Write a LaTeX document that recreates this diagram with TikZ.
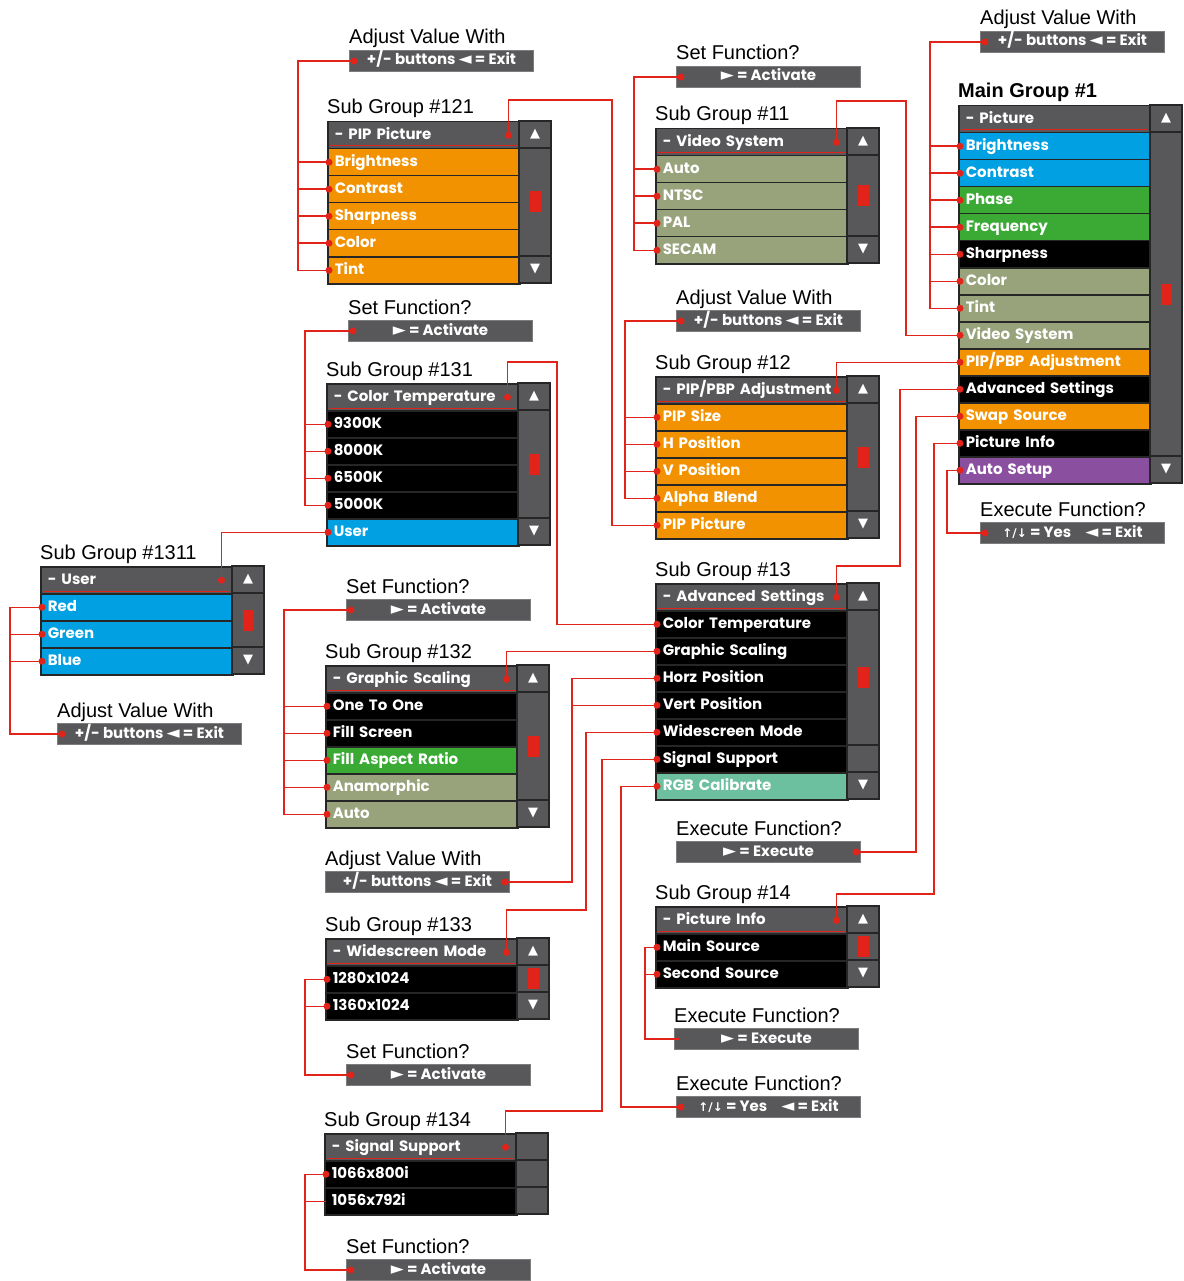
\documentclass[tikz,border=0pt]{standalone}
\usepackage{fontspec}
\setmainfont{Liberation Sans}
\newfontfamily\menufont{Poppins}
\newfontfamily\symfont{DejaVu Sans}
\usetikzlibrary{positioning}

\definecolor{linkred}{HTML}{E2231A}
\definecolor{panelgray}{HTML}{58585A}
\definecolor{edgegray}{HTML}{262626}
\definecolor{rowcyan}{HTML}{00A0E3}
\definecolor{rowgreen}{HTML}{3AAA35}
\definecolor{rowolive}{HTML}{98A37B}
\definecolor{roworange}{HTML}{F39200}
\definecolor{rowpurple}{HTML}{8B4F9F}
\definecolor{rowteal}{HTML}{6CBF9F}

\newcommand\playsym{{\symfont\mdseries\fontsize{17}{17}\selectfont\char"25BA}}
\newcommand\backsym{{\symfont\mdseries\fontsize{17}{17}\selectfont\char"25C4}}
\newcommand\updownsym{{\symfont\bfseries\fontsize{12}{12}\selectfont\char"2191/\char"2193}}

\tikzset{
  grouplabel/.style={anchor=base west, inner sep=0pt, font=\fontsize{20}{22}\selectfont},
  menurow/.style={draw=edgegray, line width=1.5pt, anchor=north west, text width=178pt,
    inner xsep=7pt, inner ysep=0pt, minimum height=27pt, text height=11pt, text depth=3pt,
    text=white, align=left, font=\menufont\bfseries\fontsize{15}{17}\selectfont},
  menuhead/.style={menurow, fill=panelgray},
  scell/.style={draw=edgegray, line width=1.5pt, fill=panelgray},
  scrollsym/.style={text=white, inner sep=0pt, font=\symfont\fontsize{13}{13}\selectfont},
  infobox/.style={draw=edgegray!60, line width=1pt, fill=panelgray, anchor=north west,
    minimum width=184pt, minimum height=21pt, inner sep=0pt, text height=11pt, text depth=3pt,
    text=white, font=\menufont\bfseries\fontsize{15}{17}\selectfont},
  link/.style={draw=linkred, line width=1.5pt}
}

\newcommand\menupanel[6]{%
  \node[grouplabel] (#1-lbl) at (#2,#3-7) {#4};
  \node[menuhead] (#1-h) at (#2,#3) {- #5};
  \draw[linkred, line width=1pt] ([xshift=3pt,yshift=3.5pt]#1-h.south west) -- ([xshift=-4pt,yshift=3.5pt]#1-h.south east);
  \coordinate (#1-h-d) at ([xshift=-12pt]#1-h.east);
  \foreach \c/\t [count=\i] in {#6} {
    \node[menurow, fill=\c] (#1-\i) at (#2,{#3+27*\i}) {\t};
    \coordinate (#1-\i-d) at ([xshift=2pt]#1-\i.west);
  }
}

\newcommand\scrollbar[5]{%
  \draw[scell] (#2,#3) rectangle ++(32,27);
  \node[scrollsym] (#1-up) at (#2+16,#3+13.5) {\char"25B2};
  \draw[scell] (#2,#3+27) rectangle ({#2+32},{#3+27*(#4+1)});
  \draw[scell] (#2,{#3+27*(#4+1)}) rectangle ({#2+32},{#3+27*#5});
  \fill[linkred] ({#2+10.5},{#3+27+13.5*#4-10.5}) rectangle ++(11,21);
  \draw[scell] (#2,{#3+27*#5}) rectangle ++(32,27);
  \node[scrollsym] (#1-dn) at (#2+16,{#3+27*#5+13.5}) {\char"25BC};
}

\newcommand\infobox[5]{%
  \node[grouplabel] (#1-lbl) at (#2,#3-6) {#4};
  \node[infobox] (#1) at (#2,#3) {#5};
  \coordinate (#1-l) at ([xshift=5pt]#1.west);
  \coordinate (#1-r) at ([xshift=-5pt]#1.east);
}

\newcommand\linkdots[1]{\foreach \p in {#1} \fill[linkred] (\p) circle (3.5);}

\begin{document}
\begin{tikzpicture}[x=1pt,y=-1pt]
\useasboundingbox (0,0) rectangle (1183,1281);
\fill[white] (0,0) rectangle (1183,1281);

\menupanel{mg}{958}{105}{\bfseries Main Group \#1}{Picture}{rowcyan/Brightness, rowcyan/Contrast, rowgreen/Phase, rowgreen/Frequency, black/Sharpness, rowolive/Color, rowolive/Tint, rowolive/Video System, roworange/{PIP/PBP Adjustment}, black/Advanced Settings, roworange/Swap Source, black/Picture Info, rowpurple/Auto Setup}
\scrollbar{mgs}{1150}{105}{12}{13}

\menupanel{sg11}{655}{128}{Sub Group \#11}{Video System}{rowolive/Auto, rowolive/NTSC, rowolive/PAL, rowolive/SECAM}
\scrollbar{sg11s}{847}{128}{3}{4}

\menupanel{sg121}{327}{121}{Sub Group \#121}{PIP Picture}{roworange/Brightness, roworange/Contrast, roworange/Sharpness, roworange/Color, roworange/Tint}
\scrollbar{sg121s}{519}{121}{4}{5}

\menupanel{sg12}{655}{376}{Sub Group \#12}{PIP/PBP Adjustment}{roworange/PIP Size, roworange/H Position, roworange/V Position, roworange/Alpha Blend, roworange/PIP Picture}
\scrollbar{sg12s}{847}{376}{4}{5}

\menupanel{sg131}{326}{383}{Sub Group \#131}{Color Temperature}{black/9300K, black/8000K, black/6500K, black/5000K, rowcyan/User}
\scrollbar{sg131s}{518}{383}{4}{5}

\menupanel{sg1311}{40}{566}{Sub Group \#1311}{User}{rowcyan/Red, rowcyan/Green, rowcyan/Blue}
\scrollbar{sg1311s}{232}{566}{2}{3}

\menupanel{sg13}{655}{583}{Sub Group \#13}{Advanced Settings}{black/Color Temperature, black/Graphic Scaling, black/Horz Position, black/Vert Position, black/Widescreen Mode, black/Signal Support, rowteal/RGB Calibrate}
\scrollbar{sg13s}{847}{583}{5}{7}

\menupanel{sg132}{325}{665}{Sub Group \#132}{Graphic Scaling}{black/One To One, black/Fill Screen, rowgreen/Fill Aspect Ratio, rowolive/Anamorphic, rowolive/Auto}
\scrollbar{sg132s}{517}{665}{4}{5}

\menupanel{sg133}{325}{938}{Sub Group \#133}{Widescreen Mode}{black/1280x1024, black/1360x1024}
\scrollbar{sg133s}{517}{938}{1}{2}

\menupanel{sg134}{324}{1133}{Sub Group \#134}{Signal Support}{black/1066x800i, black/1056x792i}
\draw[scell] (516,1133) rectangle ++(32,27);
\draw[scell] (516,1160) rectangle ++(32,27);
\draw[scell] (516,1187) rectangle ++(32,27);

\menupanel{sg14}{655}{906}{Sub Group \#14}{Picture Info}{black/Main Source, black/Second Source}
\scrollbar{sg14s}{847}{906}{1}{2}

\infobox{adj-mg}{980}{31}{Adjust Value With}{+/- buttons \backsym{} = Exit}
\infobox{exe-mg}{980}{522}{Execute Function?}{\updownsym{} = Yes\hspace{14pt}\backsym{} = Exit}
\infobox{set-sg11}{676}{66}{Set Function?}{\playsym{} = Activate}
\infobox{adj-sg121}{349}{50}{Adjust Value With}{+/- buttons \backsym{} = Exit}
\infobox{adj-sg12}{676}{310}{Adjust Value With}{+/- buttons \backsym{} = Exit}
\infobox{set-sg131}{348}{320}{Set Function?}{\playsym{} = Activate}
\infobox{adj-sg1311}{57}{723}{Adjust Value With}{+/- buttons \backsym{} = Exit}
\infobox{set-sg132}{346}{599}{Set Function?}{\playsym{} = Activate}
\infobox{exe-sg13}{676}{841}{Execute Function?}{\playsym{} = Execute}
\infobox{adj-sg13}{325}{871}{Adjust Value With}{+/- buttons \backsym{} = Exit}
\infobox{set-sg133}{346}{1064}{Set Function?}{\playsym{} = Activate}
\infobox{set-sg134}{346}{1259}{Set Function?}{\playsym{} = Activate}
\infobox{exe-sg14}{674}{1028}{Execute Function?}{\playsym{} = Execute}
\infobox{yes-sg13}{676}{1096}{Execute Function?}{\updownsym{} = Yes\hspace{14pt}\backsym{} = Exit}

\coordinate (t-mg) at (930,0);
\draw[link] (adj-mg-l) -- (t-mg |- adj-mg-l) -- (t-mg |- mg-7-d) -- (mg-7-d);
\foreach \i in {1,...,6} \draw[link] (t-mg |- mg-\i-d) -- (mg-\i-d);
\draw[link] (mg-8-d) -| (906,101) -| (sg11-h-d);
\draw[link] (mg-9-d) -| (sg12-h-d);
\draw[link] (mg-10-d) -| (900,566) -| (sg13-h-d);
\coordinate (t-sw) at (916,0);
\draw[link] (mg-11-d) -| (t-sw |- exe-sg13-r) -- (exe-sg13-r);
\draw[link] (mg-12-d) -| (934,894) -| (sg14-h-d);
\coordinate (t-as) at (947,0);
\draw[link] (mg-13-d) -| (t-as |- exe-mg-l) -- (exe-mg-l);

\coordinate (t-11) at (634,0);
\draw[link] (set-sg11-l) -- (t-11 |- set-sg11-l) -- (t-11 |- sg11-4-d) -- (sg11-4-d);
\foreach \i in {1,2,3} \draw[link] (t-11 |- sg11-\i-d) -- (sg11-\i-d);

\coordinate (t-121) at (298,0);
\draw[link] (adj-sg121-l) -- (t-121 |- adj-sg121-l) -- (t-121 |- sg121-5-d) -- (sg121-5-d);
\foreach \i in {1,...,4} \draw[link] (t-121 |- sg121-\i-d) -- (sg121-\i-d);
\draw[link] (sg121-h-d) |- (612,100) |- (sg12-5-d);

\coordinate (t-12) at (625,0);
\draw[link] (adj-sg12-l) -- (t-12 |- adj-sg12-l) -- (t-12 |- sg12-4-d) -- (sg12-4-d);
\foreach \i in {1,2,3} \draw[link] (t-12 |- sg12-\i-d) -- (sg12-\i-d);

\coordinate (t-131) at (305,0);
\draw[link] (set-sg131-l) -- (t-131 |- set-sg131-l) -- (t-131 |- sg131-4-d) -- (sg131-4-d);
\foreach \i in {1,2,3} \draw[link] (t-131 |- sg131-\i-d) -- (sg131-\i-d);
\draw[link] (sg131-h-d) |- (557,362) |- (sg13-1-d);
\draw[link] (sg131-5-d) -| (sg1311-h-d);

\coordinate (t-1311) at (10,0);
\draw[link] (adj-sg1311-l) -- (t-1311 |- adj-sg1311-l) -- (t-1311 |- sg1311-1-d) -- (sg1311-1-d);
\foreach \i in {2,3} \draw[link] (t-1311 |- sg1311-\i-d) -- (sg1311-\i-d);

\draw[link] (sg13-2-d) -| (sg132-h-d);
\coordinate (t-hv) at (572,0);
\draw[link] (sg13-3-d) -- (t-hv |- sg13-3-d) -- (t-hv |- adj-sg13-r) -- (adj-sg13-r);
\draw[link] (sg13-4-d) -- (t-hv |- sg13-4-d);
\draw[link] (sg13-5-d) -| (586,910) -| (sg133-h-d);
\draw[link] (sg13-6-d) -| (602,1111) -| (sg134-h-d);
\coordinate (t-rgb) at (621,0);
\draw[link] (sg13-7-d) -- (t-rgb |- sg13-7-d) -- (t-rgb |- yes-sg13-l) -- (yes-sg13-l);

\coordinate (t-132) at (284,0);
\draw[link] (set-sg132-l) -- (t-132 |- set-sg132-l) -- (t-132 |- sg132-5-d) -- (sg132-5-d);
\foreach \i in {1,...,4} \draw[link] (t-132 |- sg132-\i-d) -- (sg132-\i-d);

\coordinate (t-133) at (305,0);
\draw[link] (set-sg133-l) -- (t-133 |- set-sg133-l) -- (t-133 |- sg133-1-d) -- (sg133-1-d);
\draw[link] (t-133 |- sg133-2-d) -- (sg133-2-d);

\coordinate (t-134) at (305,0);
\draw[link] (set-sg134-l) -- (t-134 |- set-sg134-l) -- (t-134 |- sg134-1-d) -- (sg134-1-d);
\draw[link] (t-134 |- sg134-2-d) -- (sg134-2-d);

\coordinate (t-14) at (645,0);
\draw[link] (exe-sg14-l) -- (t-14 |- exe-sg14-l) -- (t-14 |- sg14-1-d) -- (sg14-1-d);
\draw[link] (t-14 |- sg14-2-d) -- (sg14-2-d);

\linkdots{adj-mg-l, mg-1-d, mg-2-d, mg-3-d, mg-4-d, mg-5-d, mg-6-d, mg-7-d, mg-8-d, mg-9-d, mg-10-d, mg-11-d, mg-12-d, mg-13-d, exe-mg-l, exe-sg13-r, sg11-h-d, sg12-h-d, sg13-h-d, sg14-h-d}
\linkdots{set-sg11-l, sg11-1-d, sg11-2-d, sg11-3-d, sg11-4-d, adj-sg121-l, sg121-1-d, sg121-2-d, sg121-3-d, sg121-4-d, sg121-5-d, sg121-h-d}
\linkdots{adj-sg12-l, sg12-1-d, sg12-2-d, sg12-3-d, sg12-4-d, sg12-5-d, set-sg131-l, sg131-1-d, sg131-2-d, sg131-3-d, sg131-4-d, sg131-5-d, sg131-h-d, sg1311-h-d}
\linkdots{adj-sg1311-l, sg1311-1-d, sg1311-2-d, sg1311-3-d, sg13-1-d, sg13-2-d, sg13-3-d, sg13-4-d, sg13-5-d, sg13-6-d, sg13-7-d, adj-sg13-r, sg132-h-d, sg133-h-d, sg134-h-d, yes-sg13-l}
\linkdots{set-sg132-l, sg132-1-d, sg132-2-d, sg132-3-d, sg132-4-d, sg132-5-d, set-sg133-l, sg133-1-d, sg133-2-d, set-sg134-l, sg134-1-d, sg14-1-d, sg14-2-d}
\end{tikzpicture}
\end{document}
